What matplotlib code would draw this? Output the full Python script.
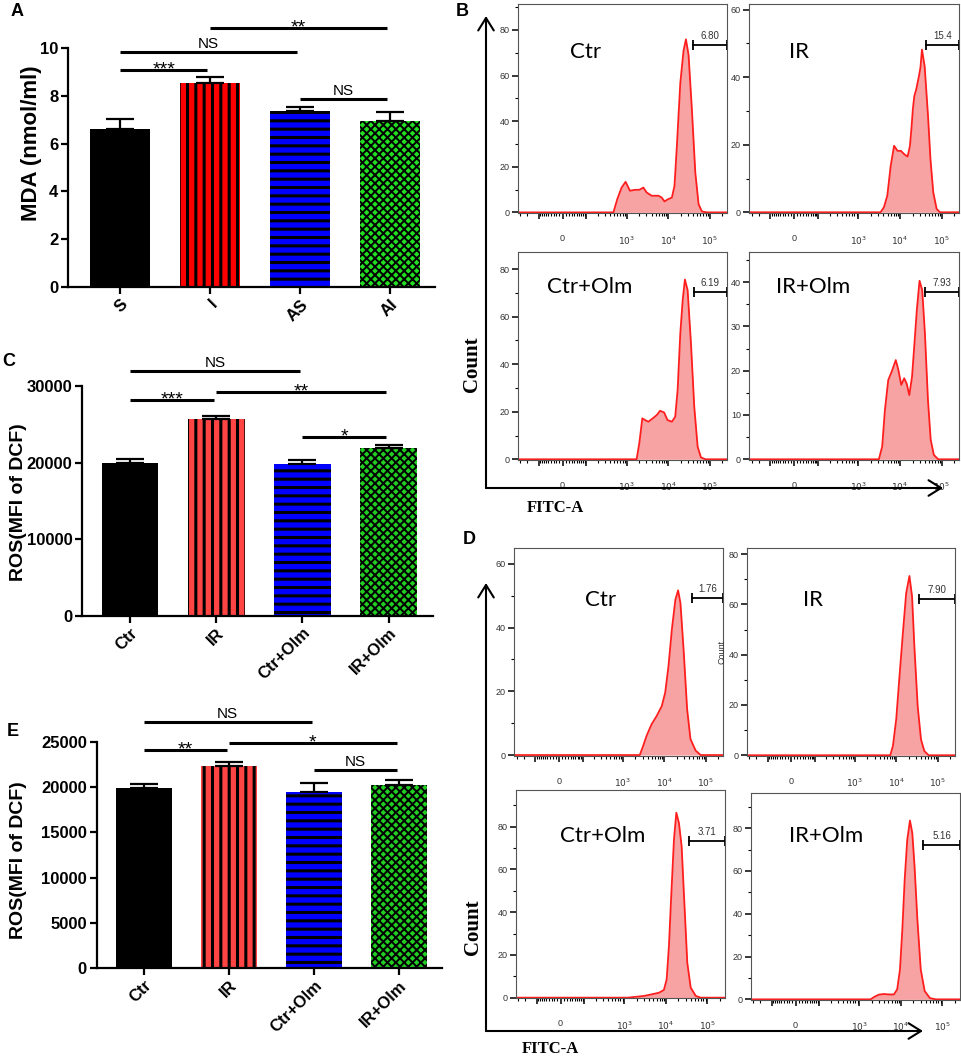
import numpy as np
import matplotlib
matplotlib.use('Agg')
import matplotlib.pyplot as plt
from matplotlib.patches import FancyArrowPatch

plt.rcParams['font.family'] = ['Liberation Sans', 'DejaVu Sans']
plt.rcParams['hatch.linewidth'] = 2.2

# ---- bar chart data (A, C, E) ----
groups_a = ['S', 'I', 'AS', 'AI']
mda_mean = [6.62, 8.55, 7.36, 6.93]
mda_err = [0.40, 0.22, 0.18, 0.40]

groups = ['Ctr', 'IR', 'Ctr+Olm', 'IR+Olm']
ros_c_mean = [19900, 25730, 19770, 21860]
ros_c_err = [530, 390, 530, 390]
ros_e_mean = [19920, 22280, 19480, 20180]
ros_e_err = [400, 440, 990, 590]

# significance brackets: (group i, group j, height, label)
sig_a = [(0, 1, 9.08, '***'), (0, 2, 9.83, 'NS'), (1, 3, 10.82, '**'), (2, 3, 7.88, 'NS')]
sig_c = [(0, 2, 31920, 'NS'), (0, 1, 28130, '***'), (1, 3, 29220, '**'), (2, 3, 23340, '*')]
sig_e = [(0, 2, 27160, 'NS'), (0, 1, 24070, '**'), (1, 3, 24850, '*'), (2, 3, 21870, 'NS')]

# ---- flow cytometry histograms (FITC-A intensity vs count) ----
b_ctr_x = [480, 595, 757, 946, 1200, 1590, 2030, 2530, 3050, 4020, 5840, 7000, 8150, 10000, 12300,
           14200, 16200, 19600, 23500, 26800, 31000, 37300, 45000, 54000, 65000, 86000]
b_ctr_y = [0, 5.8, 10.9, 13.4, 9.5, 9.9, 9.9, 10.9, 8.7, 7.3, 7.3, 6.5, 4.8, 5.8, 6.5,
           11.6, 29, 56.7, 71, 75.9, 69, 45, 17.5, 3.6, 0.4, 0]
b_ir_x = [3400, 4100, 4940, 5970, 7200, 8700, 10500, 12600, 15200, 17300, 19000, 20300, 22000,
          24500, 28400, 31000, 33600, 39000, 47000, 53800, 62800, 75700, 91000]
b_ir_y = [0, 1.5, 4.9, 13.8, 19.7, 18.2, 18.2, 17.2, 16.5, 19.7, 25.6, 30.5, 34.4,
          36.4, 40.3, 43, 48.2, 43.3, 28.5, 15.7, 5.9, 1, 0]
b_ctro_x = [1740, 2020, 2390, 2780, 3340, 4250, 5320, 6410, 8000, 9630, 12300, 14800, 16900,
            19600, 22400, 25300, 29400, 35400, 42500, 51200, 61600, 79000]
b_ctro_y = [0, 6.7, 17.2, 16.5, 15.8, 17.2, 18.6, 20.4, 19.7, 16.5, 15.8, 17.9, 29.1,
            52.9, 67, 75.6, 71.1, 48.7, 22.1, 5.3, 0.8, 0]
b_iro_x = [3100, 3730, 4330, 5210, 6310, 7900, 9100, 10700, 12600, 14400, 16700, 19400, 22200,
           25300, 29400, 34100, 39600, 46800, 54500, 64800, 82500]
b_iro_y = [0, 2.9, 11.1, 17.9, 19.8, 22.4, 20.2, 16.8, 18.3, 17.1, 14.5, 18.6, 26.2,
           33.7, 40.3, 38.2, 28.4, 13.4, 4.4, 1, 0]

d_ctr_x = [2560, 3090, 3720, 4940, 6560, 8700, 10500, 12600, 15200, 18500, 21500, 24500,
           29500, 35500, 42800, 57000, 75500]
d_ctr_y = [0, 2.9, 6, 9.7, 12.3, 15.4, 19.6, 27.9, 39.4, 48.8, 51.7, 47.7,
           32.1, 14.4, 5, 1.4, 0]
d_ir_x = [7180, 8320, 10000, 12000, 14500, 17400, 20900, 24200, 27500, 33100, 39800, 47900, 60700]
d_ir_y = [0, 3.7, 14.3, 31.4, 48.6, 64.4, 71.3, 63.1, 43.3, 19.5, 6.3, 1.7, 0]
d_ctro_x = [1200, 1680, 2940, 4670, 6770, 8930, 10400, 11800, 13400, 15600, 17800, 20600,
            23900, 27300, 32700, 39500, 52400, 69000]
d_ctro_y = [0, 0.3, 0.8, 1.6, 2.3, 3.6, 8.5, 24, 47.4, 73.8, 86.5, 81.6,
            70.7, 47.4, 16.3, 4.7, 0.8, 0]
d_iro_x = [1850, 2300, 2930, 3880, 5120, 6780, 8130, 9490, 10800, 12300, 14200, 16500, 18800,
           21300, 24900, 30000, 37300, 49900, 68800]
d_iro_y = [0, 1.2, 2.2, 2.5, 2.3, 2.3, 4.7, 14, 32.6, 55.9, 74.6, 83.6, 77.7,
           62.1, 37.3, 14, 3.9, 0.6, 0]

# gates: (start, count level, percent)
gates_b = [(40400, 73.2, '6.80'), (41300, 49.5, '15.4'), (41000, 70.2, '6.19'), (39200, 37.7, '7.93')]
gates_d = [(45400, 49.3, '1.76'), (35000, 62.0, '7.90'), (36000, 73.3, '3.71'), (34800, 72.2, '5.16')]
names = ['Ctr', 'IR', 'Ctr+Olm', 'IR+Olm']

W, H = 962, 1056
fig = plt.figure(figsize=(W / 100, H / 100), dpi=100)


def px_axes(l, t, r, b):
    return fig.add_axes([l / W, 1 - b / H, (r - l) / W, (b - t) / H])


def bar_panel(box, labels, mean, err, sig, colors, ylim, yticks, xlim, ylabel, ylab_xy, fs):
    ax = px_axes(*box)
    hatches = [None, '||', '--', 'xxxx']
    hlw = [2.2, 2.2, 2.2, 1.4]
    xs = np.arange(len(labels))
    for i in range(len(labels)):
        with plt.rc_context({'hatch.linewidth': hlw[i]}):
            ax.bar(xs[i], mean[i], width=0.66, color=colors[i], edgecolor='black',
                   hatch=hatches[i], linewidth=0, zorder=2)
    ax.errorbar(xs, mean, yerr=[np.zeros(len(err)), err], fmt='none', ecolor='black',
                elinewidth=1.6, capsize=10, capthick=1.6, zorder=3)
    for i, j, y, txt in sig:
        ax.plot([i, j - 0.03], [y, y], color='black', lw=2.2, clip_on=False,
                solid_capstyle='butt')
        star = txt != 'NS'
        ax.annotate(txt, xy=((i + j - 0.03) / 2, y), xytext=(0, -3 if star else 3),
                    textcoords='offset points', ha='center', va='baseline',
                    fontsize=14 if star else 11, annotation_clip=False)
    ax.set_xlim(*xlim)
    ax.set_ylim(*ylim)
    ax.set_yticks(yticks)
    ax.set_xticks(xs)
    ax.set_xticklabels(labels, rotation=45, ha='right', va='top', rotation_mode='anchor',
                       fontweight='bold', fontsize=fs)
    for t in ax.get_yticklabels():
        t.set_fontweight('bold')
        t.set_fontsize(fs)
    ax.spines['top'].set_visible(False)
    ax.spines['right'].set_visible(False)
    ax.spines['left'].set_linewidth(1.6)
    ax.spines['bottom'].set_linewidth(1.6)
    ax.tick_params(width=1.6, length=5, pad=2)
    ax.set_ylabel(ylabel, fontweight='bold', fontsize=ylab_xy[2])
    ax.yaxis.set_label_coords(ylab_xy[0], ylab_xy[1])
    return ax


bar_panel((68, 48, 435, 287), groups_a, mda_mean, mda_err, sig_a,
          ['black', '#ff0000', '#0000ff', '#22dd22'], (0, 10), [0, 2, 4, 6, 8, 10],
          (-0.58, 3.5), 'MDA (nmol/ml)', (-0.07, 0.6, 16), 12)
bar_panel((82, 386, 433, 615.7), groups, ros_c_mean, ros_c_err, sig_c,
          ['black', '#ff4444', '#0000ff', '#22cc22'], (0, 30000), [0, 10000, 20000, 30000],
          (-0.557, 3.515), 'ROS(MFI of DCF)', (-0.157, 0.493, 14), 12)
bar_panel((96.7, 741.7, 441.7, 968.3), groups, ros_e_mean, ros_e_err, sig_e,
          ['black', '#ff4444', '#0000ff', '#22cc22'], (0, 25000), [0, 5000, 10000, 15000, 20000, 25000],
          (-0.556, 3.5), 'ROS(MFI of DCF)', (-0.202, 0.476, 14), 12)

# ---- flow panels ----
A0 = 57.7
XL, XR = -345, 265000
maj = [-100, 0, 100, 1000, 10000, 100000]
maj_lab = ['', '0', '', '$10^3$', '$10^4$', '$10^5$']
minor = ([-k * 100 for k in (2, 3)] + [-k * 10 for k in range(1, 10)] + [k * 10 for k in range(1, 10)]
         + [k * 10 ** d for d in (2, 3, 4) for k in range(2, 10)] + [200000])


def flow_panel(box, x, y, ylim, ystep, gate, name, name_xy, ylabel=None):
    ax = px_axes(*box)
    ax.set_xscale('asinh', linear_width=A0)
    xx = [XL] + list(x) + [XR]
    yy = [0] + list(y) + [0]
    ax.fill_between(xx, yy, color='#f7a3a3', lw=0, zorder=1)
    ax.plot(xx, yy, color='#ff1e1e', lw=1.3, zorder=2)
    ax.set_xlim(XL, XR)
    ax.set_ylim(*ylim)
    ax.set_xticks(maj, maj_lab)
    ax.set_xticks(minor, minor=True)
    ax.set_yticks(np.arange(0, ylim[1], ystep))
    ax.set_yticks(np.arange(0, ylim[1], ystep / 2), minor=True)
    ax.tick_params(axis='x', which='major', length=4, width=1.1, pad=11, labelsize=6.5,
                   labelcolor='#333333')
    ax.tick_params(axis='x', which='minor', length=2.5, width=0.8)
    ax.tick_params(axis='y', which='major', length=4, width=1.1, pad=2, labelsize=6.5,
                   labelcolor='#333333')
    ax.tick_params(axis='y', which='minor', length=2.5, width=0.8)
    for s in ax.spines.values():
        s.set_linewidth(0.8)
        s.set_color('#555555')
    gx, gy, gtxt = gate
    ax.plot([gx, XR], [gy, gy], color='black', lw=1.3, clip_on=False)
    ax.plot([gx, XR], [gy, gy], ls='none', marker='|', ms=7, mew=1.3, color='black', clip_on=False)
    t = ax.xaxis.get_transform()
    u = t.transform(np.array([gx, XR], dtype=float))
    mid = t.inverted().transform(np.array([u.mean()]))[0]
    ax.annotate(gtxt, xy=(mid, gy), xytext=(0, 3), textcoords='offset points', ha='center',
                va='bottom', fontsize=7, color='#333333', annotation_clip=False)
    ax.text(name_xy[0], name_xy[1], name, transform=ax.transAxes, fontsize=16,
            family=['Lato', 'DejaVu Sans'], ha='left', va='center')
    if ylabel:
        ax.set_ylabel(ylabel, fontsize=6.5, labelpad=1, color='#333333')
    return ax


flow_panel((517.7, 4, 727.3, 213.3), b_ctr_x, b_ctr_y, (-0.4, 91.4), 20, gates_b[0], names[0], (0.25, 0.77))
flow_panel((749.3, 4, 959.3, 213.3), b_ir_x, b_ir_y, (-0.3, 61.7), 20, gates_b[1], names[1], (0.19, 0.77))
flow_panel((517.7, 251.7, 727.3, 460), b_ctro_x, b_ctro_y, (-0.3, 87.3), 20, gates_b[2], names[2], (0.14, 0.83))
flow_panel((749.3, 252, 959.3, 460), b_iro_x, b_iro_y, (-0.16, 46.8), 10, gates_b[3], names[3], (0.127, 0.83))

flow_panel((514.3, 548.3, 723.3, 756), d_ctr_x, d_ctr_y, (-0.3, 64.9), 20, gates_d[0], names[0], (0.338, 0.75))
flow_panel((746.7, 548.3, 955, 756), d_ir_x, d_ir_y, (-0.3, 82.3), 20, gates_d[1], names[1], (0.27, 0.75),
           ylabel='Count')
flow_panel((515.7, 790, 725, 998.3), d_ctro_x, d_ctro_y, (-0.3, 97.1), 20, gates_d[2], names[2], (0.21, 0.78))
flow_panel((750.7, 792.7, 960, 1000), d_iro_x, d_iro_y, (-0.3, 96.6), 20, gates_d[3], names[3], (0.183, 0.79))


# outer arrows of B and D
def fig_arrow(x0, y0, x1, y1):
    fig.add_artist(FancyArrowPatch((x0 / W, 1 - y0 / H), (x1 / W, 1 - y1 / H), transform=fig.transFigure,
                                   arrowstyle='->,head_length=0.45,head_width=0.28', mutation_scale=20,
                                   lw=1.5, color='black', shrinkA=0, shrinkB=0))


fig_arrow(486, 488, 486, 16)
fig_arrow(486, 488, 943, 488)
fig_arrow(486, 1031, 486, 583)
fig_arrow(486, 1031, 923, 1031)

serif = ['Liberation Serif', 'DejaVu Serif']
fig.text(472 / W, 1 - 364 / H, 'Count', rotation=90, family=serif, fontweight='bold', fontsize=15,
         ha='center', va='center')
fig.text(473 / W, 1 - 927 / H, 'Count', rotation=90, family=serif, fontweight='bold', fontsize=15,
         ha='center', va='center')
fig.text(555 / W, 1 - 508 / H, 'FITC-A', family=serif, fontweight='bold', fontsize=12,
         ha='center', va='center')
fig.text(550 / W, 1 - 1049 / H, 'FITC-A', family=serif, fontweight='bold', fontsize=12,
         ha='center', va='center')

# panel letters
for lab, (px, py) in zip('ABCDE', [(17, 12), (462, 12), (9, 361), (469, 540), (13, 731)]):
    fig.text(px / W, 1 - py / H, lab, fontsize=13, fontweight='bold', ha='center', va='center')

fig.savefig('out.png', dpi=100)
